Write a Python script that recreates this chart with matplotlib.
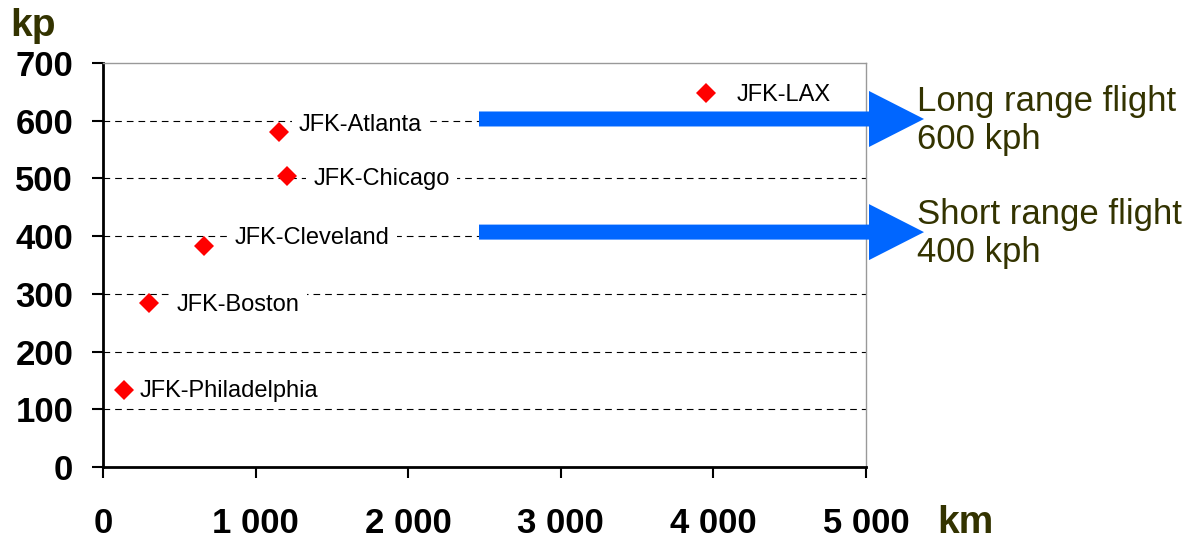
import matplotlib
matplotlib.use("Agg")
import matplotlib.pyplot as plt
from matplotlib.patches import FancyArrow

plt.rcParams['font.family'] = ['Liberation Sans', 'DejaVu Sans']

# Data
routes = ['JFK-Philadelphia', 'JFK-Boston', 'JFK-Cleveland', 'JFK-Atlanta', 'JFK-Chicago', 'JFK-LAX']
distance_km = [138, 302, 663, 1155, 1207, 3950]
speed_kph = [133, 284, 383, 581, 504, 648]
# label offsets (points) relative to marker
label_dx = [11.5, 20, 22, 14, 19, 22]
label_dy = [-0.8, -1.5, 5.5, 5, -2, -1.5]

xticks = [0, 1000, 2000, 3000, 4000, 5000]
xtick_labels = ['0', '1 000', '2 000', '3 000', '4 000', '5 000']
yticks = [0, 100, 200, 300, 400, 500, 600, 700]
ytick_labels = [str(v) for v in yticks]

arrow_levels = [603, 407]
arrow_texts = ['Long range flight\n600 kph', 'Short range flight\n400 kph']

olive = '#333300'
blue = '#0066FF'

fig = plt.figure(figsize=(11.97, 5.46), dpi=100)
ax = fig.add_axes([103/1197, 79/546, 763/1197, 404/546])

ax.set_xlim(0, 5000)
ax.set_ylim(0, 700)

ax.set_xticks(xticks)
ax.set_xticklabels(xtick_labels, fontsize=25, fontweight='bold')
ax.set_yticks(yticks)
ax.set_yticklabels(ytick_labels, fontsize=25, fontweight='bold')
ax.tick_params(axis='y', direction='out', length=8, width=1.5, pad=13.5)
ax.tick_params(axis='x', direction='out', length=8, width=1.5, pad=21)

for s in ['left', 'bottom']:
    ax.spines[s].set_color('black')
    ax.spines[s].set_linewidth(2)
for s in ['top', 'right']:
    ax.spines[s].set_color('#999999')
    ax.spines[s].set_linewidth(1)

ax.grid(axis='y', color='black', linestyle=(0, (6, 4.5)), linewidth=0.8)
gl = ax.get_ygridlines()
gl[0].set_visible(False)
gl[-1].set_visible(False)
ax.set_axisbelow(True)

ax.plot(distance_km, speed_kph, linestyle='none', marker='D', markersize=10.5,
        color='#FF0000', markeredgewidth=0, zorder=4)

for name, x, y, dx, dy in zip(routes, distance_km, speed_kph, label_dx, label_dy):
    ax.annotate(name, (x, y), xytext=(dx, dy), textcoords='offset points',
                ha='left', va='center', fontsize=17, color='black', zorder=3,
                bbox=dict(boxstyle='square,pad=0.3', fc='white', ec='none'))

# arrows
ppx_x = 5000 / 763
ppx_y = 700 / 404
for lvl, txt in zip(arrow_levels, arrow_texts):
    x0 = 376 * ppx_x
    tip = 821 * ppx_x
    arr = FancyArrow(x0, lvl, tip - x0, 0, width=15 * ppx_y,
                     head_width=56 * ppx_y, head_length=55 * ppx_x,
                     length_includes_head=True, color=blue, lw=0,
                     clip_on=False, zorder=5)
    ax.add_patch(arr)
    ax.text(814 * ppx_x, lvl - 3, txt, ha='left', va='center', fontsize=25,
            color=olive, linespacing=1.2, clip_on=False)

fig.text(10/1197, 1 - 26/546, 'kp', fontsize=28, fontweight='bold', color=olive,
         ha='left', va='center')
fig.text(937/1197, 1 - 523/546, 'km', fontsize=28, fontweight='bold', color=olive,
         ha='left', va='center')

fig.savefig('out.png', dpi=100)
